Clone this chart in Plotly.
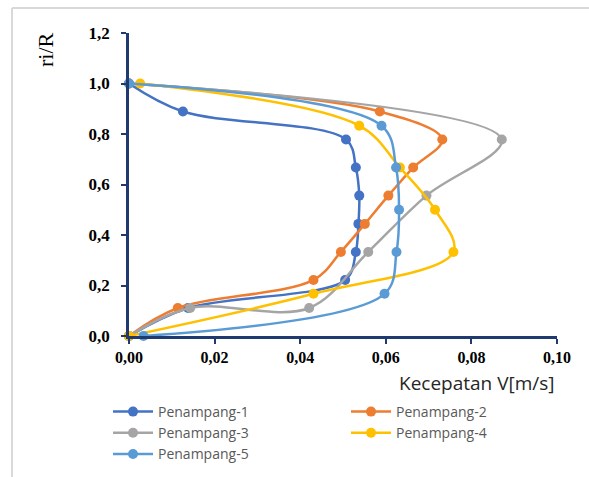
import plotly.graph_objects as go

# ---- data ----
y_ninths = [0.0, 0.111, 0.222, 0.333, 0.444, 0.556, 0.667, 0.778, 0.889, 1.0]
y_sixths = [0.0, 0.167, 0.333, 0.5, 0.667, 0.833, 1.0]

p1_x = [0.0, 0.0138, 0.0505, 0.0530, 0.0536, 0.0538, 0.0530, 0.0507, 0.0126, 0.0]
p1_y = y_ninths
p2_x = [0.0, 0.0114, 0.0431, 0.0495, 0.0551, 0.0606, 0.0664, 0.0732, 0.0586, 0.0]
p2_y = y_ninths
p3_x = [0.0, 0.0143, 0.0421, 0.0559, 0.0695, 0.0871, 0.0]
p3_y = [0.0, 0.111, 0.111, 0.333, 0.556, 0.778, 1.0]
p4_x = [0.0, 0.0431, 0.0758, 0.0715, 0.0633, 0.0538, 0.0026]
p4_y = y_sixths
p5_x = [0.0034, 0.0597, 0.0625, 0.0631, 0.0624, 0.0590, 0.0]
p5_y = y_sixths

names = ["Penampang-1", "Penampang-2", "Penampang-3", "Penampang-4", "Penampang-5"]
colors = ["#4472C4", "#ED7D31", "#A5A5A5", "#FFC000", "#5B9BD5"]
series = [(p1_x, p1_y), (p2_x, p2_y), (p3_x, p3_y), (p4_x, p4_y), (p5_x, p5_y)]

fig = go.Figure()
for (xs, ys), n, c in zip(series, names, colors):
    fig.add_trace(go.Scatter(
        x=xs, y=ys, name=n, mode="lines+markers",
        line=dict(color=c, width=2.5, shape="spline", smoothing=1),
        marker=dict(color=c, size=10),
        cliponaxis=False,
    ))

W, H = 589, 477
L, R, T, B = 129, 32, 33, 141
pw, ph = W - L - R, H - T - B

def px(xpix):
    return (xpix - L) / pw

def py(ypix):
    return (H - B - ypix) / ph

axis_col = "#1F3A6E"
fig.update_layout(
    width=W, height=H,
    margin=dict(l=L, r=R, t=T, b=B, pad=0, autoexpand=False),
    paper_bgcolor="white", plot_bgcolor="white",
    separators=",.",
    showlegend=True,
    legend=dict(
        orientation="h", x=px(108), y=py(396), xanchor="left", yanchor="top",
        entrywidth=183, entrywidthmode="pixels",
        font=dict(family="Open Sans", size=14, color="#595959"),
        itemwidth=40, tracegroupgap=0,
    ),
    xaxis=dict(
        range=[0, 0.1], dtick=0.02, tickformat=".2f",
        showgrid=False, zeroline=False,
        showline=True, linecolor=axis_col, linewidth=2.5,
        ticks="outside", ticklen=5, tickwidth=2, tickcolor=axis_col,
        tickfont=dict(family="Liberation Serif", size=16, color="#000000", weight="bold"),
    ),
    yaxis=dict(
        range=[0, 1.2], dtick=0.2, tickformat=".1f",
        showgrid=False, zeroline=False,
        showline=True, linecolor=axis_col, linewidth=2.5,
        ticks="outside", ticklen=5, tickwidth=2, tickcolor=axis_col,
        ticklabelstandoff=8,
        tickfont=dict(family="Liberation Serif", size=17, color="#000000", weight="bold"),
    ),
    annotations=[
        dict(text="ri/R", x=px(45), y=py(50), xref="paper", yref="paper",
             showarrow=False, textangle=-90, xanchor="center", yanchor="middle",
             font=dict(family="Liberation Serif", size=22, color="#000000")),
        dict(text="Kecepatan V[m/s]", x=1.0, y=py(383), xref="paper", yref="paper",
             showarrow=False, xanchor="right", yanchor="middle",
             font=dict(family="Open Sans", size=19, color="#262626")),
    ],
    shapes=[
        dict(type="line", xref="paper", yref="paper", x0=px(12), x1=px(W), y0=py(8), y1=py(8),
             line=dict(color="#D9D9D9", width=2)),
        dict(type="line", xref="paper", yref="paper", x0=px(12), x1=px(12), y0=py(8), y1=py(H),
             line=dict(color="#D9D9D9", width=2)),
    ],
)

fig.write_html("out.html")
